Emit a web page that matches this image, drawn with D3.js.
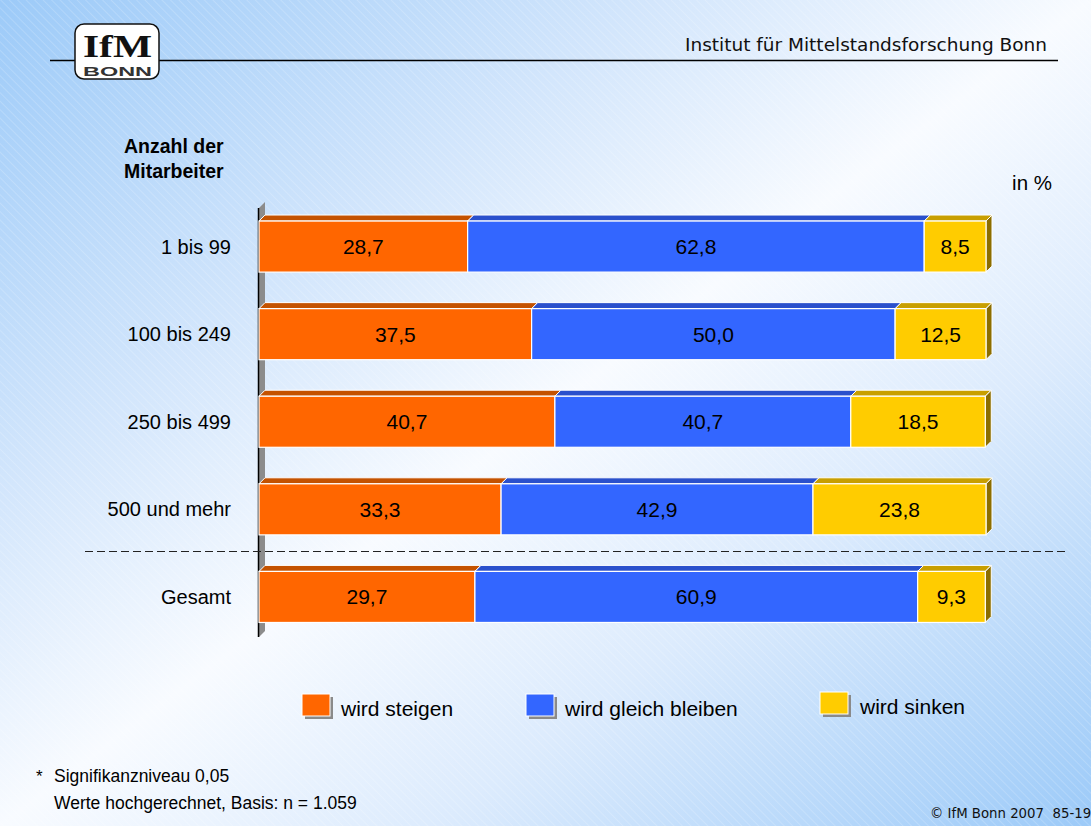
<!DOCTYPE html>
<html><head><meta charset="utf-8">
<script src="https://cdn.jsdelivr.net/npm/d3@7"></script>
<style>html,body{margin:0;padding:0;overflow:hidden;background:#fff}</style>
</head><body>
<svg id="chart" width="1091" height="826"></svg>
<script>
const categories = ["1 bis 99", "100 bis 249", "250 bis 499", "500 und mehr", "Gesamt"];
const seriesNames = ["wird steigen", "wird gleich bleiben", "wird sinken"];
const steigen = [28.7, 37.5, 40.7, 33.3, 29.7];
const gleich = [62.8, 50.0, 40.7, 42.9, 60.9];
const sinken = [8.5, 12.5, 18.5, 23.8, 9.3];
const colors = ["#ff6600", "#3366ff", "#ffcc00"];
const topColors = ["#c45200", "#2a50cc", "#c89f00"];
const sideColors = ["#8a3a00", "#1e3a99", "#8c6e00"];

const W = 1091, H = 826;
const svg = d3.select("#chart");
const defs = svg.append("defs");
const bg = defs.append("linearGradient").attr("id", "bg").attr("x1", "0").attr("y1", "0").attr("x2", "1").attr("y2", "1");
bg.append("stop").attr("offset", "0").attr("stop-color", "#9ccaf8");
bg.append("stop").attr("offset", "0.3").attr("stop-color", "#d3e6fc");
bg.append("stop").attr("offset", "0.5").attr("stop-color", "#f8fbff");
bg.append("stop").attr("offset", "0.7").attr("stop-color", "#dcebfd");
bg.append("stop").attr("offset", "1").attr("stop-color", "#9ccaf8");
const pat = defs.append("pattern").attr("id", "stripes").attr("width", 6).attr("height", 6)
  .attr("patternUnits", "userSpaceOnUse").attr("patternTransform", "rotate(-45)");
pat.append("line").attr("x1", 0).attr("y1", 0).attr("x2", 0).attr("y2", 6).attr("stroke", "#ffffff").attr("stroke-width", 1).attr("stroke-opacity", 0.35);

svg.append("rect").attr("width", W).attr("height", H).attr("fill", "url(#bg)");
svg.append("rect").attr("width", W).attr("height", H).attr("fill", "url(#stripes)");

// Header
svg.append("line").attr("x1", 50).attr("x2", 1058).attr("y1", 60.5).attr("y2", 60.5).attr("stroke", "#000").attr("stroke-width", 1.3);
const logo = svg.append("g");
logo.append("rect").attr("x", 75).attr("y", 24).attr("width", 84).attr("height", 55).attr("rx", 9)
  .attr("fill", "#fff").attr("stroke", "#111").attr("stroke-width", 1.5);
logo.append("text").attr("x", 83).attr("y", 57)
  .attr("font-family", "Liberation Serif, serif").attr("font-weight", "bold").attr("font-size", 32)
  .attr("textLength", 69).attr("lengthAdjust", "spacingAndGlyphs").attr("fill", "#111").text("IfM");
logo.append("text").attr("x", 83).attr("y", 75.5)
  .attr("font-family", "Liberation Sans, Arial, sans-serif").attr("font-weight", "bold").attr("font-size", 12.5)
  .attr("textLength", 69).attr("lengthAdjust", "spacingAndGlyphs").attr("fill", "#333").text("BONN");
svg.append("text").attr("x", 1047).attr("y", 51).attr("text-anchor", "end")
  .attr("font-family", "DejaVu Sans, Verdana, sans-serif").attr("font-size", 18.5).attr("fill", "#111")
  .text("Institut für Mittelstandsforschung Bonn");

const font = "Liberation Sans, Arial, sans-serif";
svg.append("text").attr("x", 124).attr("y", 153).attr("font-family", font).attr("font-weight", "bold").attr("font-size", 19.5).text("Anzahl der");
svg.append("text").attr("x", 124).attr("y", 178).attr("font-family", font).attr("font-weight", "bold").attr("font-size", 19.5).text("Mitarbeiter");
svg.append("text").attr("x", 1052).attr("y", 190).attr("text-anchor", "end").attr("font-family", font).attr("font-size", 20.5).text("in %");

// Scales
const x = d3.scaleLinear().domain([0, 100]).range([259, 986]);
const y = d3.scaleBand().domain(categories).range([203, 640.5]).paddingInner(0.417).paddingOuter(0.206);
const D = 6; // 3D depth

// Axis wall
const axTop = 202, axBot = 637;
svg.append("path").attr("d", `M259,${axTop + D}L${259 + D},${axTop}L${259 + D},${axBot - D}L259,${axBot}Z`).attr("fill", "#8c8c8c");
svg.append("line").attr("x1", 258.5).attr("x2", 258.5).attr("y1", axTop + D).attr("y2", axBot).attr("stroke", "#000").attr("stroke-width", 1.5);

// Dashed separator
svg.append("line").attr("x1", 85).attr("x2", 1065).attr("y1", 551.5).attr("y2", 551.5)
  .attr("stroke", "#222").attr("stroke-width", 1.2).attr("stroke-dasharray", "8,4");

// Bars
const data = categories.map((c, i) => {
  const vals = [steigen[i], gleich[i], sinken[i]];
  let cum = 0;
  return vals.map((v, k) => { const s = { cat: c, k, v, x0: cum, x1: cum + v }; cum += v; return s; });
});
const fmt = v => d3.format(".1f")(v).replace(".", ",");

data.forEach(row => {
  const g = svg.append("g");
  const yt = y(row[0].cat), bh = y.bandwidth();
  row.forEach(s => {
    const a = x(s.x0), b = x(s.x1);
    g.append("path").attr("d", `M${a},${yt}L${a + D},${yt - D}L${b + D},${yt - D}L${b},${yt}Z`)
      .attr("fill", topColors[s.k]).attr("stroke", "#fff").attr("stroke-width", 1);
  });
  const last = row[row.length - 1];
  const xe = x(last.x1);
  g.append("path").attr("d", `M${xe},${yt}L${xe + D},${yt - D}L${xe + D},${yt + bh - D}L${xe},${yt + bh}Z`)
    .attr("fill", sideColors[last.k]).attr("stroke", "#fff").attr("stroke-width", 1);
  row.forEach(s => {
    g.append("rect").attr("x", x(s.x0)).attr("y", yt).attr("width", x(s.x1) - x(s.x0)).attr("height", bh)
      .attr("fill", colors[s.k]).attr("stroke", "#fff").attr("stroke-width", 1.2);
    g.append("text").attr("x", (x(s.x0) + x(s.x1)) / 2).attr("y", yt + bh / 2 + 7.5)
      .attr("text-anchor", "middle").attr("font-family", font).attr("font-size", 21).attr("fill", "#000")
      .text(fmt(s.v));
  });
  svg.append("text").attr("x", 231).attr("y", yt + bh / 2 + 7).attr("text-anchor", "end")
    .attr("font-family", font).attr("font-size", 20).attr("fill", "#000").text(row[0].cat);
});

// Legend
const legendPos = [{ x: 302, y: 694, tx: 341, ty: 716 }, { x: 526, y: 694, tx: 565, ty: 716 }, { x: 820, y: 692, tx: 860, ty: 714 }];
seriesNames.forEach((n, i) => {
  const p = legendPos[i];
  svg.append("rect").attr("x", p.x + 3).attr("y", p.y + 3).attr("width", 28).attr("height", 22).attr("fill", "#8a8a8a");
  svg.append("rect").attr("x", p.x).attr("y", p.y).attr("width", 28).attr("height", 22).attr("fill", colors[i]).attr("stroke", "#fff").attr("stroke-width", 1);
  svg.append("text").attr("x", p.tx).attr("y", p.ty).attr("font-family", font).attr("font-size", 21).attr("fill", "#000").text(n);
});

// Footnotes
svg.append("text").attr("x", 36).attr("y", 782).attr("font-family", font).attr("font-size", 17).text("*");
svg.append("text").attr("x", 54).attr("y", 782).attr("font-family", font).attr("font-size", 17.5).text("Signifikanzniveau 0,05");
svg.append("text").attr("x", 54).attr("y", 809).attr("font-family", font).attr("font-size", 17.5).text("Werte hochgerechnet, Basis: n = 1.059");
svg.append("text").attr("x", 930).attr("y", 818).attr("font-family", "DejaVu Sans, Verdana, sans-serif").attr("font-size", 13.3).attr("fill", "#111").attr("xml:space", "preserve").text("© IfM Bonn 2007  85-19");
</script>
</body></html>
